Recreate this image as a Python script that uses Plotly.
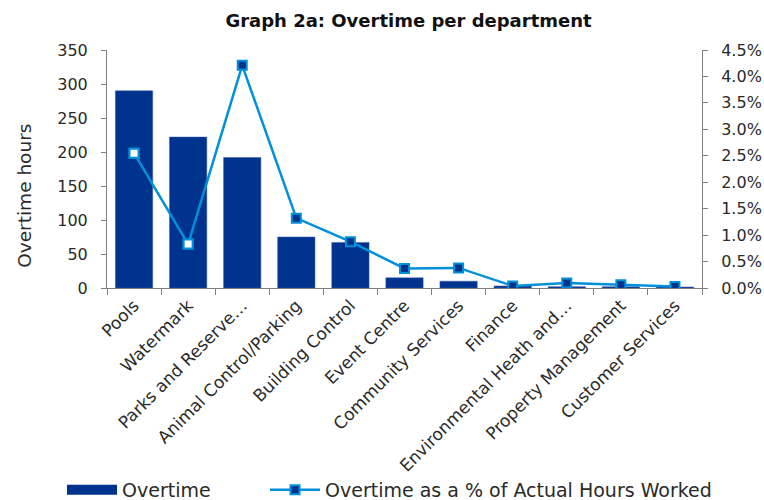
import plotly.graph_objects as go

departments = [
    "Pools", "Watermark", "Parks and Reserve…", "Animal Control/Parking",
    "Building Control", "Event Centre", "Community Services", "Finance",
    "Environmental Heath and…", "Property Management", "Customer Services",
]
overtime_hours = [290, 222, 192, 75, 67, 15, 10, 3, 2, 2, 1.5]
overtime_pct = [0.0255, 0.0083, 0.0421, 0.0132, 0.00875, 0.0037, 0.0038,
                0.0004, 0.00095, 0.0006, 0.0003]
# Points whose marker is drawn with an open (white) centre
open_markers = ["Pools", "Watermark"]

NAVY = "#00338D"
BLUE = "#0091DA"
GREY = "#808080"
TEXT = "#2a2a2a"
FONT = "DejaVu Sans"

fig = go.Figure()
fig.add_trace(go.Bar(
    x=departments, y=overtime_hours, name="Overtime",
    marker=dict(color=NAVY, line=dict(color="#3a5fa8", width=0.5)),
    yaxis="y", showlegend=False,
))
# legend key for the bars: a wide filled swatch
fig.add_trace(go.Scatter(
    x=[None], y=[None], name="Overtime", mode="lines",
    line=dict(color=NAVY, width=10), legend="legend", hoverinfo="skip",
))
fig.add_trace(go.Scatter(
    x=departments, y=overtime_pct, name="Overtime as a % of Actual Hours Worked",
    mode="lines+markers", yaxis="y2", legend="legend2",
    line=dict(color=BLUE, width=2.5),
    marker=dict(symbol="square", size=9, color=NAVY, line=dict(color=BLUE, width=2)),
))
open_idx = [departments.index(d) for d in open_markers]
fig.add_trace(go.Scatter(
    x=[departments[i] for i in open_idx], y=[overtime_pct[i] for i in open_idx],
    mode="markers", yaxis="y2", showlegend=False, hoverinfo="skip",
    marker=dict(symbol="square", size=9, color="white", line=dict(color=BLUE, width=2)),
))

legend_common = dict(orientation="h", xref="container", yref="container",
                     xanchor="left", y=0.02, yanchor="middle", itemwidth=50,
                     font=dict(family=FONT, size=19, color=TEXT),
                     bgcolor="rgba(0,0,0,0)")

fig.update_layout(
    width=764, height=500,
    margin=dict(l=107, r=62, t=50, b=212, autoexpand=False),
    paper_bgcolor="white", plot_bgcolor="white",
    font=dict(family=FONT, color=TEXT, size=16),
    title=dict(text="<b>Graph 2a: Overtime per department</b>",
               x=(227 + 590) / 2 / 764, xanchor="center", y=0.958, yanchor="middle",
               font=dict(family=FONT, size=18, color="#111111")),
    bargap=0.31,
    showlegend=True,
    legend=dict(x=62 / 764, **legend_common),
    legend2=dict(x=265 / 764, **legend_common),
    xaxis=dict(
        type="category", range=[-0.5, len(departments) - 0.5],
        tickangle=-45, tickson="boundaries",
        ticks="outside", ticklen=6, tickcolor=GREY,
        showline=True, linecolor=GREY, linewidth=1,
        tickfont=dict(size=17, color=TEXT),
        showgrid=False, automargin=False,
    ),
    yaxis=dict(
        range=[0, 350], dtick=50, ticks="outside", ticklen=5, tickcolor=GREY,
        showline=True, linecolor=GREY, linewidth=1, showgrid=False,
        zeroline=False, automargin=False, ticklabelstandoff=10,
        tickfont=dict(size=16),
    ),
    yaxis2=dict(
        range=[0, 0.045], dtick=0.005, tickformat=".1%", overlaying="y", side="right",
        ticks="outside", ticklen=5, tickcolor=GREY, automargin=False,
        showline=True, linecolor=GREY, linewidth=1, showgrid=False, zeroline=False,
        tickfont=dict(size=16), ticklabelstandoff=10,
    ),
    annotations=[dict(
        text="Overtime hours", textangle=-90, showarrow=False,
        xref="paper", yref="paper", x=-0.138, y=0.387,
        xanchor="center", yanchor="middle",
        font=dict(family=FONT, size=18.5, color=TEXT),
    )],
)

fig.write_html("out.html")
